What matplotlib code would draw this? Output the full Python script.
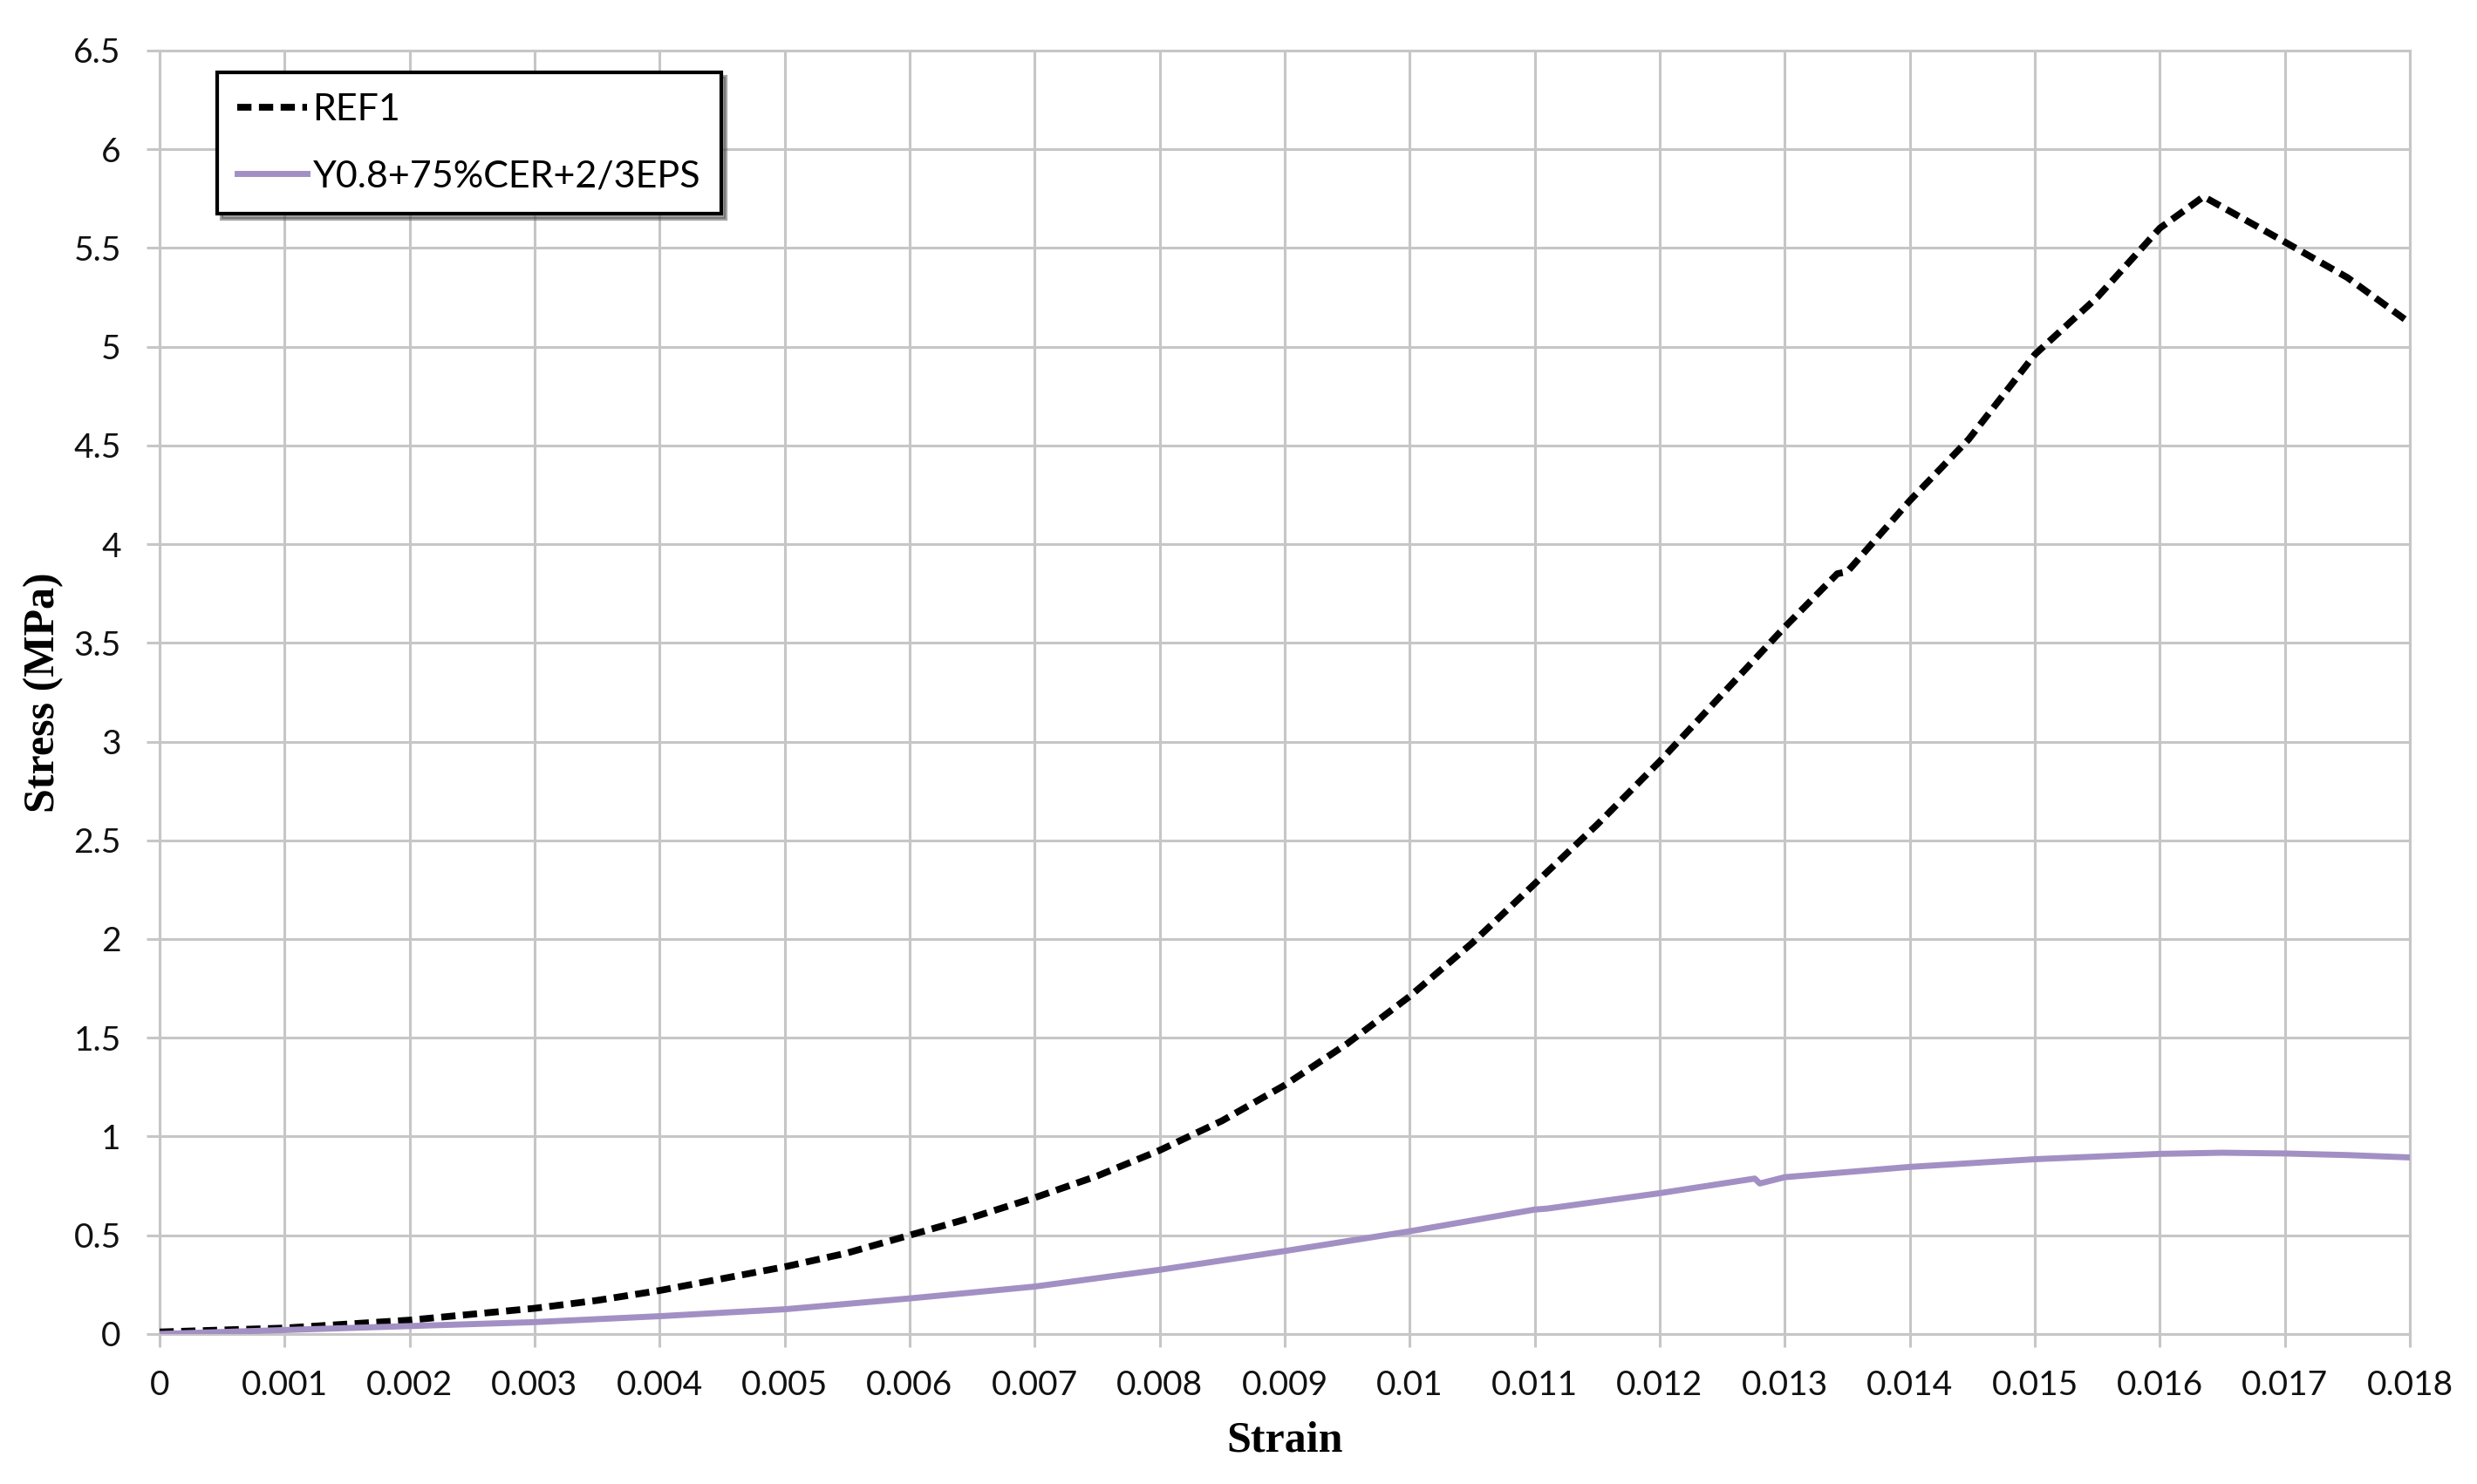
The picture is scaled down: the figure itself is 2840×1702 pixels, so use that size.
import matplotlib.pyplot as plt
import numpy as np

# REF1 curve
strainRef = [0.0, 0.0005, 0.001, 0.0015, 0.002, 0.0025, 0.003, 0.0035, 0.004, 0.0045,
             0.005, 0.0055, 0.006, 0.0065, 0.007, 0.0075, 0.008, 0.0085, 0.009, 0.0095,
             0.010, 0.0105, 0.011, 0.0115, 0.012, 0.0125, 0.013, 0.01342, 0.0135, 0.014,
             0.01447, 0.015, 0.0155, 0.016, 0.01635, 0.017, 0.0175, 0.018]
stressRef = [0.01, 0.02, 0.03, 0.05, 0.07, 0.10, 0.13, 0.17, 0.22, 0.28,
             0.34, 0.41, 0.50, 0.59, 0.69, 0.80, 0.93, 1.08, 1.26, 1.47,
             1.71, 1.98, 2.28, 2.58, 2.90, 3.24, 3.58, 3.85, 3.86, 4.22,
             4.53, 4.96, 5.25, 5.60, 5.76, 5.53, 5.35, 5.12]

# Y0.8+75%CER+2/3EPS curve
strainMix = [0.0, 0.001, 0.002, 0.003, 0.004, 0.005, 0.006, 0.007, 0.008, 0.009,
             0.010, 0.011, 0.0111, 0.012, 0.01276, 0.0128, 0.013, 0.014, 0.015, 0.016,
             0.0165, 0.017, 0.0175, 0.018]
stressMix = [0.0, 0.02, 0.04, 0.06, 0.09, 0.125, 0.18, 0.24, 0.325, 0.42,
             0.52, 0.63, 0.635, 0.713, 0.787, 0.762, 0.794, 0.846, 0.885, 0.912,
             0.918, 0.914, 0.906, 0.894]

xTicks = np.arange(0, 0.0181, 0.001)
xTickLabels = ["0", "0.001", "0.002", "0.003", "0.004", "0.005", "0.006", "0.007", "0.008",
               "0.009", "0.01", "0.011", "0.012", "0.013", "0.014", "0.015", "0.016",
               "0.017", "0.018"]
yTicks = np.arange(0, 6.51, 0.5)
yTickLabels = ["0", "0.5", "1", "1.5", "2", "2.5", "3", "3.5", "4", "4.5", "5", "5.5", "6", "6.5"]

gridColor = "#c6c6c6"

fig = plt.figure(figsize=(14.2, 8.51), dpi=200)
ax = fig.add_axes([0.0644, 0.1011, 0.9085, 0.8649])

ax.plot(strainRef, stressRef, color="black", linestyle=(0, (2.1, 1.1)), linewidth=2.8,
        label="REF1", zorder=3)
ax.plot(strainMix, stressMix, color="#a290c4", linewidth=2.5,
        label="Y0.8+75%CER+2/3EPS", zorder=3)

ax.set_xlim(0, 0.018)
ax.set_ylim(0, 6.5)
ax.set_xticks(xTicks)
ax.set_xticklabels(xTickLabels)
ax.set_yticks(yTicks)
ax.set_yticklabels(yTickLabels)
ax.grid(True, color=gridColor, linewidth=1.1)
ax.set_axisbelow(True)
ax.tick_params(axis="both", direction="out", length=5.4, width=1.1, color=gridColor,
               labelsize=14, labelcolor="#111111")
ax.tick_params(axis="y", pad=10.5)
ax.tick_params(axis="x", pad=9.5)
for lbl in ax.get_xticklabels() + ax.get_yticklabels():
    lbl.set_family("Lato")
for s in ax.spines.values():
    s.set_color(gridColor)
    s.set_linewidth(1.1)

ax.set_xlabel("Strain", family="Liberation Serif", fontweight="bold", fontsize=18, labelpad=8)
ax.set_ylabel("Stress (MPa)", family="Liberation Serif", fontweight="bold", fontsize=18, labelpad=4)

#legend box in the upper left corner
leg = ax.legend(loc="upper left", bbox_to_anchor=(0.0255, 0.983), prop={"family": "Lato", "size": 15.5},
                frameon=True, fancybox=False, shadow=True, handlelength=1.85, handletextpad=0.15,
                borderpad=0.55, labelspacing=0.9, borderaxespad=0)
leg.get_frame().set_edgecolor("black")
leg.get_frame().set_linewidth(1.5)

plt.savefig("out.png", dpi=200)
